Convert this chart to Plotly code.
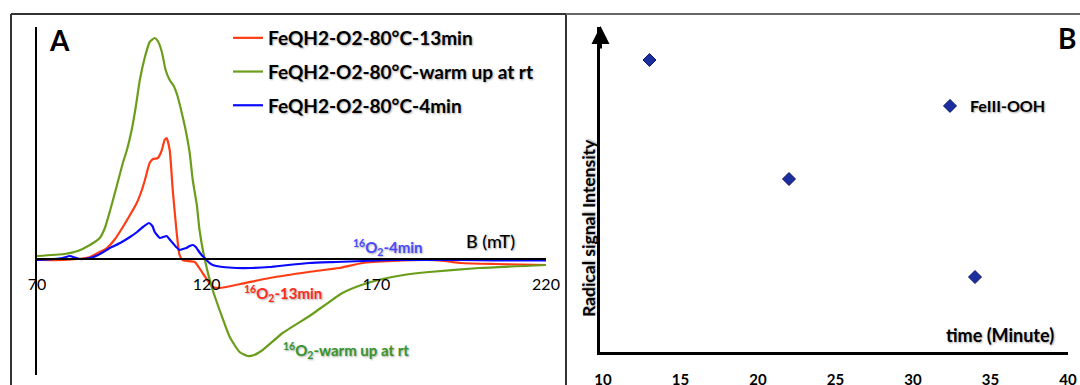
import plotly.graph_objects as go

# ---------------- Panel A: EPR spectra (B in mT, intensity in arbitrary units) ----------------
b_red = [70, 78, 82, 85.6, 88.5, 90.6, 93, 95.3, 97.4, 99.4, 101, 101.8, 103.2, 104.2, 105.6,
         106.7, 107.6, 108.2, 109.1, 110, 111.2, 112, 112.9, 114, 116.5, 118.8, 121.8, 123.8,
         130, 138.5, 150, 159, 166, 175, 185, 190, 195, 205, 220]
i_red = [-1, -1, 0, 2, 7, 11, 20, 32, 44, 56, 70, 79, 96, 100, 101,
         108, 119, 121, 109, 69, 25, 4, -1, -2, -3, -14, -28, -29,
         -25, -19, -13, -9, -4, -2, -1, -2, -4, -5, -6]

b_green = [70, 78, 82, 85.6, 88.5, 90.0, 91.5, 93.5, 95.3, 96.5, 97.9, 99.1, 100.3, 101.8,
           103.2, 104.7, 105.6, 106.8, 107.9, 109.1, 110.3, 111.5, 112.6, 113.8, 115.0, 115.9,
           117.1, 117.9, 119.4, 121.5, 123.8, 126.8, 129.7, 132, 134, 136.5, 142.4, 150.3, 153.2,
           158.2, 160, 165.6, 171.8, 178, 185.6, 200.3, 220]
i_green = [3, 5, 8, 14, 21, 31, 48, 73, 96, 109, 129, 152, 179, 202,
           217, 221, 218, 207, 189, 179, 173, 162, 147, 129, 106, 79,
           54, 29, 0, -28, -51, -78, -93, -97, -96, -91, -74, -57, -50,
           -38, -34, -26, -20, -16, -13, -9, -6]

b_blue = [70, 75, 77.5, 79.7, 81, 82.6, 85.6, 88, 91.5, 94.5, 97.4, 99.5, 101.2, 103, 104,
          104.7, 106.2, 107.2, 108.2, 109, 110, 111, 112, 113, 114, 115, 116, 116.8, 117.4,
          118.5, 119.4, 120.5, 121.8, 124.7, 128.8, 133, 138.5, 144, 150.3, 158.2, 166, 175,
          185, 195, 205, 220]
i_blue = [-1, 0, 1, 3, 1.5, 0, 1, 4, 11, 16, 22, 27, 32, 36, 33,
          27, 21, 22, 23, 20, 16, 12, 9, 10, 11, 13, 14, 12, 9,
          4, 1, -3, -6, -8, -9, -9, -8, -6, -4, -3, -2, -1,
          -1, -1, -1.5, -1.5]

names_a = ["FeQH2-O2-80°C-13min", "FeQH2-O2-80°C-warm up at rt", "FeQH2-O2-80°C-4min"]
ticks_a = [70, 120, 170, 220]

# ---------------- Panel B: radical signal vs time ----------------
t_min = [13, 22, 34]
signal = [292, 173, 75]
ticks_b = [10, 15, 20, 25, 30, 35, 40]

W, H = 1080, 385
FONT = "Lato"
SHADOW = "1px 1px 2px rgba(0,0,0,0.35)"


def px(x):
    return x / W


def py(y):
    return 1 - y / H


fig = go.Figure()

cols = ["#ff3c14", "#6a9e1a", "#0a0aff"]
for bx, iy, nm, c, g in [(b_red, i_red, names_a[0], cols[0], "r"),
                         (b_green, i_green, names_a[1], cols[1], "g"),
                         (b_blue, i_blue, names_a[2], cols[2], "b")]:
    fig.add_trace(go.Scatter(x=bx, y=iy, mode="lines", name=nm, legendgroup=g,
                             line=dict(color=c, width=2.2, shape="spline", smoothing=0.5),
                             xaxis="x", yaxis="y", legend="legend"))

fig.add_trace(go.Scatter(x=t_min, y=signal, mode="markers", name="FeIII-OOH",
                         marker=dict(symbol="diamond", size=10, color="#1c2da0",
                                     line=dict(color="#0b1766", width=1)),
                         xaxis="x2", yaxis="y2", legend="legend2"))

fig.update_layout(
    width=W, height=H,
    margin=dict(l=0, r=0, t=0, b=0, autoexpand=False),
    paper_bgcolor="white", plot_bgcolor="white",
    font=dict(family=FONT, color="black"),
    xaxis=dict(domain=[px(37), px(546)], range=[70, 220], anchor="free",
               position=(H - 259) / H, showline=True, linecolor="black", linewidth=2,
               tickvals=ticks_a, ticks="outside", ticklen=11, tickcolor="rgba(0,0,0,0)",
               tickfont=dict(size=16, family=FONT, color="black"),
               showgrid=False, zeroline=False),
    yaxis=dict(domain=[py(375), py(27)], range=[259 - 375, 259 - 27], anchor="x",
               showline=True, linecolor="black", linewidth=2, showticklabels=False,
               ticks="", showgrid=False, zeroline=False),
    xaxis2=dict(domain=[px(600), px(1068)], range=[10 - 3 / 15.5, 40], anchor="y2",
                showline=True, linecolor="black", linewidth=3, tickvals=ticks_b,
                ticks="outside", ticklen=12, tickcolor="rgba(0,0,0,0)",
                tickfont=dict(size=15, family=FONT, weight="bold", color="black"),
                showgrid=False, zeroline=False),
    yaxis2=dict(domain=[py(352), py(27)], range=[0, 325], anchor="x2",
                showline=True, linecolor="black", linewidth=3, showticklabels=False,
                ticks="", showgrid=False, zeroline=False),
    legend=dict(x=px(228), y=py(19), xanchor="left", yanchor="top",
                bgcolor="rgba(0,0,0,0)", borderwidth=0, tracegroupgap=6,
                font=dict(size=19, family=FONT, weight="bold", color="black",
                          shadow=SHADOW)),
    legend2=dict(x=px(930), y=py(106), xanchor="left", yanchor="middle",
                 bgcolor="rgba(0,0,0,0)", borderwidth=0,
                 font=dict(size=16, family=FONT, weight="bold", color="black",
                           shadow=SHADOW)),
    showlegend=True,
)

# Panel frames
line = dict(color="#333333", width=2)
fig.add_shape(type="line", xref="paper", yref="paper", x0=px(11), x1=px(11), y0=0, y1=py(14), line=line)
fig.add_shape(type="line", xref="paper", yref="paper", x0=px(11), x1=px(566), y0=py(14), y1=py(14), line=line)
fig.add_shape(type="line", xref="paper", yref="paper", x0=px(566), x1=px(566), y0=0, y1=py(14), line=line)
fig.add_shape(type="line", xref="paper", yref="paper", x0=px(566), x1=1, y0=py(14), y1=py(14),
              line=dict(color="#666666", width=2))

ann = []
ann.append(dict(x=px(59), y=py(40), text="<b>A</b>", xanchor="center", yanchor="middle",
                font=dict(size=28, family=FONT, color="black")))
ann.append(dict(x=px(1067), y=py(38), text="<b>B</b>", xanchor="center", yanchor="middle",
                font=dict(size=28, family=FONT, color="black")))
ann.append(dict(x=px(490), y=py(241), text="B (mT)", xanchor="center", yanchor="middle",
                font=dict(size=18, family=FONT, weight=500, color="black", shadow=SHADOW)))
ann.append(dict(x=px(388), y=py(247), text="<b><sup>16</sup>O<sub>2</sub>-4min</b>",
                xanchor="center", yanchor="middle",
                font=dict(size=15, family=FONT, color="#4a4aff", shadow=SHADOW)))
ann.append(dict(x=px(283), y=py(293), text="<b><sup>16</sup>O<sub>2</sub>-13min</b>",
                xanchor="center", yanchor="middle",
                font=dict(size=15, family=FONT, color="#ff2a1a", shadow=SHADOW)))
ann.append(dict(x=px(346), y=py(350), text="<b><sup>16</sup>O<sub>2</sub>-warm up at rt</b>",
                xanchor="center", yanchor="middle",
                font=dict(size=15, family=FONT, color="#35952a", shadow=SHADOW)))
ann.append(dict(x=px(588), y=py(228), text="<b>Radical signal Intensity</b>", textangle=-90,
                xanchor="center", yanchor="middle",
                font=dict(size=17.5, family=FONT, color="black", shadow=SHADOW)))
ann.append(dict(x=px(1000), y=py(335), text="<b>time (Minute)</b>", xanchor="center",
                yanchor="middle",
                font=dict(size=18, family=FONT, color="black", shadow=SHADOW)))
for a in ann:
    a.update(xref="paper", yref="paper", showarrow=False)
    fig.add_annotation(**a)

# arrow head on the B y-axis
fig.add_annotation(xref="paper", yref="paper", x=px(600.5), y=py(26), ax=0, ay=24, text="",
                   showarrow=True, arrowhead=2, arrowsize=1.2, arrowwidth=3, arrowcolor="black")

fig.write_html("out.html", config={"displayModeBar": False},
               post_script="document.body.style.margin='0';document.body.style.overflow='hidden';")
